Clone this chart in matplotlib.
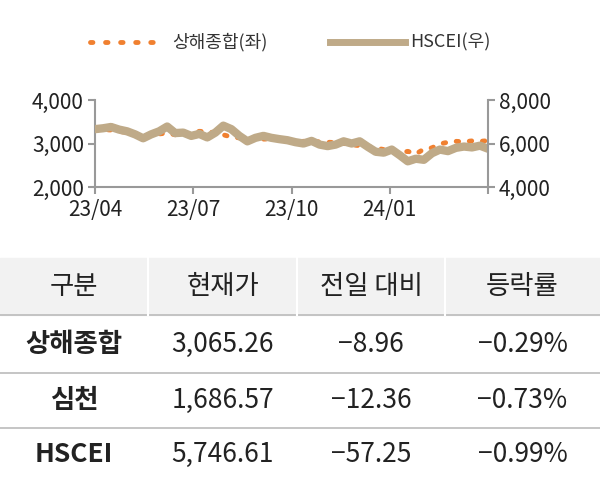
import numpy as np
import matplotlib.pyplot as plt

plt.rcParams['font.family'] = 'Noto Sans CJK KR'

# weekly points, x in months from 23/04
shanghai = [3300, 3320, 3310, 3280, 3250, 3230, 3200, 3180, 3220, 3240, 3200, 3210,
            3230, 3280, 3270, 3250, 3200, 3150, 3130, 3120, 3110, 3100, 3110, 3090,
            3070, 3060, 3050, 3040, 3040, 3030, 3020, 3000, 2970, 2950, 2930, 2900,
            2860, 2800, 2780, 2820, 2760, 2870, 2900, 2990, 3030, 3050, 3040, 3060,
            3050, 3065]
hscei = [6660, 6700, 6760, 6640, 6560, 6420, 6240, 6420, 6560, 6780, 6480, 6500,
         6350, 6440, 6280, 6500, 6820, 6660, 6350, 6100, 6260, 6350, 6260, 6200,
         6150, 6060, 6000, 6120, 5950, 5880, 5950, 6100, 6000, 6100, 5850, 5620,
         5580, 5720, 5460, 5180, 5300, 5250, 5550, 5720, 5650, 5800, 5860, 5820,
         5900, 5760]
xs = np.linspace(0, 12, len(hscei))
xticks = [0, 3, 6, 9, 12]
xlabels = ['23/04', '23/07', '23/10', '24/01', '']

header = ['구분', '현재가', '전일 대비', '등락률']
rows = [['상해종합', '3,065.26', '-8.96', '-0.29%'],
        ['심천', '1,686.57', '-12.36', '-0.73%'],
        ['HSCEI', '5,746.61', '-57.25', '-0.99%']]

fig = plt.figure(figsize=(6, 4.8), dpi=100)
ax = fig.add_axes([95/600, 1-187/480, 393/600, 87/480])
ax2 = ax.twinx()
ax.plot(xs, shanghai, color='#F08030', linestyle=(0, (0.5, 2.2)), linewidth=3.5,
        dash_capstyle='round')
ax2.plot(xs, hscei, color='#BFAA88', linewidth=6, solid_capstyle='round',
         solid_joinstyle='round')
ax.set_ylim(2000, 4000)
ax2.set_ylim(4000, 8000)
ax.set_yticks([2000, 3000, 4000])
ax2.set_yticks([4000, 6000, 8000])
ax.set_yticklabels(['2,000', '3,000', '4,000'])
ax2.set_yticklabels(['4,000', '6,000', '8,000'])
ax.set_xlim(0, 12)
ax.set_xticks(xticks)
ax.set_xticklabels(xlabels)
for a in (ax, ax2):
    for s in a.spines.values():
        s.set_visible(False)
    a.tick_params(labelsize=15, colors='#999999', labelcolor='#222222', width=1.5,
                  length=5, pad=3)
ax.tick_params(axis='x', pad=4)
ax.spines['left'].set_visible(True)
ax.spines['bottom'].set_visible(True)
ax2.spines['right'].set_visible(True)
for s in (ax.spines['left'], ax.spines['bottom'], ax2.spines['right']):
    s.set_color('#999999')
    s.set_linewidth(1.5)

# legend
ly = 1 - 42/480
fig.lines.append(plt.Line2D([90/600, 160/600], [ly]*2, color='#F08030',
                            linestyle=(0, (0.5, 2.6)), linewidth=3.5,
                            dash_capstyle='round', transform=fig.transFigure))
fig.text(172/600, ly, '상해종합(좌)', fontsize=13, va='center', color='#333333')
fig.lines.append(plt.Line2D([330/600, 405/600], [ly]*2, color='#BFAA88',
                            linewidth=5, transform=fig.transFigure))
fig.text(410/600, ly, 'HSCEI(우)', fontsize=13, va='center', color='#333333')

# table
tax = fig.add_axes([0, 0, 1, 1])
tax.set_xlim(0, 600)
tax.set_ylim(480, 0)
tax.axis('off')
tax.add_patch(plt.Rectangle((0, 258), 600, 57, color='#F2F2F2', zorder=0))
colx = [0, 148, 297, 445, 600]
rowy = [258, 315, 373, 428, 480]
for y in rowy[1:4]:
    tax.plot([0, 600], [y, y], color='#BBBBBB', lw=1.2)
for x in colx[1:4]:
    tax.plot([x, x], [258, 315], color='#FFFFFF', lw=1.5)
for j, h in enumerate(header):
    tax.text((colx[j]+colx[j+1])/2, (rowy[0]+rowy[1])/2, h, ha='center', va='center',
             fontsize=19, color='#222222', fontweight='medium')
for i, r in enumerate(rows):
    for j, v in enumerate(r):
        tax.text((colx[j]+colx[j+1])/2, (rowy[i+1]+rowy[i+2])/2, v.replace('-', '−'),
                 ha='center', va='center', fontsize=19, color='#222222',
                 fontweight='bold' if j == 0 else 'normal')

fig.savefig('out.png', dpi=100, facecolor='white')
